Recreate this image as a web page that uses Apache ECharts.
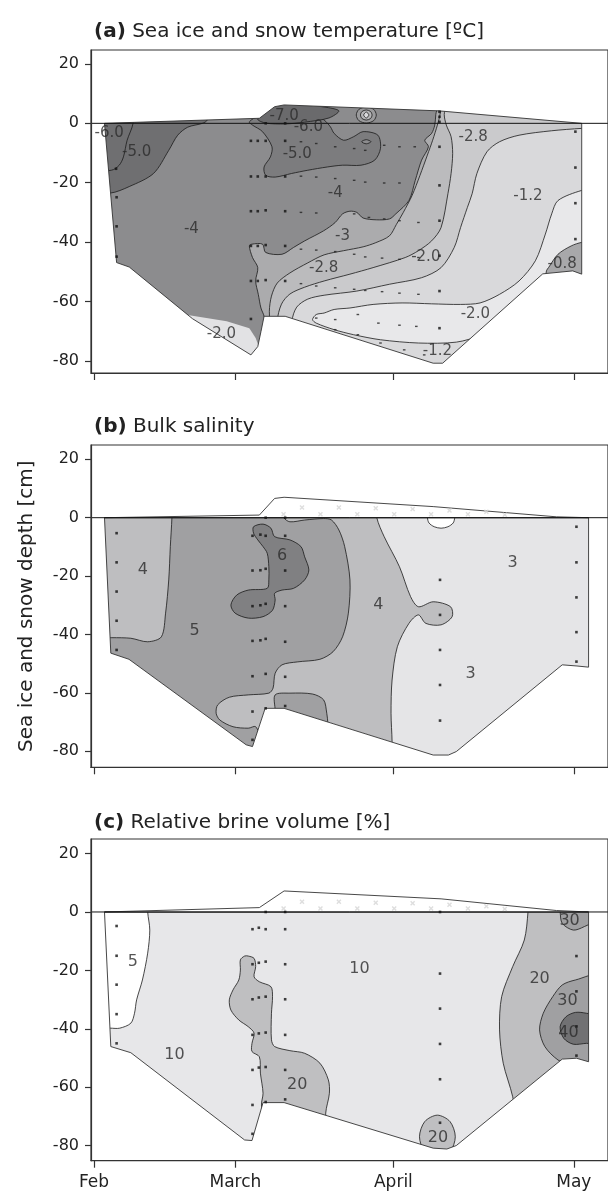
<!DOCTYPE html>
<html><head><meta charset="utf-8">
<script src="https://cdn.jsdelivr.net/npm/echarts@6/dist/echarts.min.js"></script>
<style>html,body{margin:0;padding:0;background:#fff}#c{width:608px;height:1191px}</style>
</head><body><div id="c"></div>
<script>
// ---------- axes / ticks ----------
const X_MIN = -0.56, X_MAX = 97.59;              // days since 1 Feb (figure scale)
const MONTH_TICKS = [0, 26.85, 56.85, 91.1];
const MONTH_NAMES = ['Feb', 'March', 'April', 'May'];
const DEPTH_TICKS = [-80, -60, -40, -20, 0, 20];
const Y_RANGES = [[-84.1, 24.7], [-85.5, 24.9], [-85.2, 25.0]];
const TITLES = ['(a)', '(b)', '(c)'];
const SUBTITLES = [' Sea ice and snow temperature [ºC]', ' Bulk salinity', ' Relative brine volume [%]'];
const Y_NAME = 'Sea ice and snow depth [cm]';

// ---------- panel (a) temperature: polygons [day, depth] ----------
const A_DOMAIN = [[2.0,0],[4.3,-46.9],[6.7,-48.4],[18.7,-65.8],[29.8,-78.0],[31.1,-75.2],[31.7,-70.2],[32.3,-65.0],[36.3,-65.0],[64.4,-80.8],[66.2,-80.8],[85.2,-50.7],[90.9,-49.7],[92.6,-50.8],[92.6,0],[65.5,4.2],[36.1,6.2],[34.3,5.6],[31.4,1.7]];
const A_L0 = [[97.4,-21.0],[92.6,-22.6],[88.1,-26.0],[86.9,-30.5],[85.7,-37.3],[83.8,-46.3],[80.7,-53.1],[77.0,-57.6],[73.3,-60.5],[69.6,-61.0],[64.1,-60.8],[58.5,-60.5],[53.0,-61.0],[48.6,-62.2],[45.6,-62.7],[43.7,-63.9],[42.2,-64.4],[41.5,-66.1],[42.2,-67.3],[45.6,-69.5],[49.3,-71.2],[54.4,-72.9],[61.6,-74.0],[68.8,-73.7],[73.8,-71.2],[78.9,-66.7],[97.4,-66.7]];
const A_P08 = [[85.7,-53.7],[85.9,-49.7],[86.3,-48.6],[88.1,-44.1],[90.6,-41.3],[92.6,-40.1],[95.6,-39.6],[95.6,-60],[85.6,-60]];
const A_C4 = [[97.4,11],[97.4,-1.3],[92.6,-1.7],[86.9,-2.5],[80.7,-4.0],[77.0,-6.2],[74.6,-9.6],[72.7,-16.9],[71.8,-23.7],[70.9,-28.3],[69.6,-35.1],[68.4,-41.8],[65.9,-48.6],[62.2,-52.0],[56.1,-54.2],[49.9,-56.5],[43.7,-57.9],[40.6,-59.2],[38.5,-61.9],[37.6,-66.7],[37.6,-90],[-5,-90],[-5,11]];
const A_C3 = [[67,11],[66.5,3],[66.9,-0.6],[67.8,-4.5],[68.1,-10.2],[67.8,-16.9],[67.2,-23.7],[65.9,-35.1],[64.1,-39.6],[61.6,-42.9],[59.1,-45.2],[53.0,-48.6],[48.6,-50.8],[43.7,-53.1],[40.0,-55.2],[37.2,-57.5],[35.6,-60.9],[34.8,-66.7],[34.8,-90],[-5,-90],[-5,11]];
const A_C2 = [[66,11],[65.7,3],[65.2,-0.6],[64.3,-5.7],[63.3,-10.7],[61.9,-17.5],[60.4,-24.3],[58.7,-30.1],[57.4,-34.1],[56.1,-37.9],[53.5,-40.2],[51.1,-41.6],[47.4,-42.9],[43.7,-44.3],[40.6,-47.0],[37.2,-50.4],[34.8,-53.8],[33.7,-58.2],[33.3,-63.3],[33.3,-90],[-5,-90],[-5,11]];
const A_L4 = [[65.5,11],[64.9,3],[64.7,-0.6],[64.1,-3.4],[62.8,-5.7],[63.5,-7.9],[62.2,-12.4],[61.0,-19.2],[59.8,-26.0],[57.3,-30.5],[56.1,-32.2],[53.6,-32.5],[51.1,-31.9],[49.9,-30.0],[48.6,-29.6],[47.2,-30.5],[45.8,-33.4],[43.6,-36.2],[40.0,-39.6],[37.9,-41.8],[35.7,-44.1],[32.6,-43.5],[32.0,-40.7],[30.0,-40.7],[29.5,-41.3],[30.1,-45.2],[31.1,-48.6],[30.7,-53.1],[31.2,-57.6],[31.7,-62.2],[32.3,-65.0],[32.6,-70.2],[32.6,-90],[-5,-90],[-5,11]];
const A_LP = [[17.8,-64.6],[25.2,-66.7],[29.5,-69.0],[30.7,-72.3],[31.4,-75.7],[31.1,-79.6],[28.9,-81],[16.9,-70.2]];
const A_B1 = [[-5,5],[21.5,5],[21.5,1.1],[20.6,0],[17.8,-1.3],[15.9,-4.0],[14.2,-9.1],[11.3,-16.9],[6.7,-21.3],[3.1,-23.5],[-5,-23.5]];
const A_B1B = [[7.4,5],[7.4,-0.2],[6.3,-5.7],[5.6,-11.3],[4.8,-14.1],[3.3,-15.8],[-5,-16],[-5,5]];
const A_M5 = [[29.5,0.5],[30.1,-0.6],[32.0,-2.8],[33.8,-7.9],[33.5,-11.3],[32.3,-14.7],[32.6,-17.5],[34.4,-18.1],[37.5,-16.9],[40.6,-15.8],[44.3,-14.7],[47.2,-14.1],[50.7,-14.1],[53.3,-12.4],[54.4,-8.4],[53.9,-4.0],[51.1,-2.8],[49.3,-4.5],[47.4,-5.7],[45.6,-3.4],[44.9,-1.2],[43.7,1.1],[40.0,5.2],[36.3,7],[34.4,7],[31.5,3]];
const A_M7 = [[31.1,1.5],[34.4,6.5],[36.3,7],[43.7,5.5],[46.5,4.2],[44.6,1.8],[40.0,0.4],[36.3,-0.2],[32.6,0.1]];
const A_K1 = [[49.8,2.8],[50.3,4.7],[51.7,5.5],[53.1,4.7],[53.6,2.8],[53.1,0.9],[51.7,0.1],[50.3,0.9]];
const A_K2 = [[50.6,2.8],[50.9,4.0],[51.7,4.5],[52.5,4.0],[52.8,2.8],[52.5,1.6],[51.7,1.1],[50.9,1.6]];
const A_K3 = [[51.2,2.8],[51.7,3.8],[52.2,2.8],[51.7,1.8]];
const A_OV = [[50.8,-6.2],[51.7,-5.5],[52.6,-6.2],[51.7,-6.9]];
const A_DOTS = [[4.2,-15.3],[4.3,-24.9],[4.3,-34.7],[4.3,-44.9],
  [29.8,-5.9],[31.1,-5.9],[32.6,-5.9],[36.3,-5.9],[29.8,-17.9],[31.1,-17.9],[32.6,-17.9],[36.3,-17.9],
  [29.8,-29.6],[31.1,-29.6],[32.6,-29.3],[36.3,-29.6],[29.8,-41.3],[31.1,-41.3],[32.6,-41.0],[36.3,-41.3],
  [29.8,-53.1],[31.1,-53.1],[32.6,-52.8],[36.3,-53.1],[29.8,-65.9],[32.6,0],[36.3,0],
  [65.6,3.9],[65.6,2.2],[65.6,0.5],[65.6,-7.9],[65.6,-20.9],[65.6,-32.8],[65.6,-44.6],[65.6,-56.5],[65.6,-69.0],
  [91.4,-2.8],[91.4,-14.9],[91.4,-26.9],[91.4,-39.0]];
const A_MARKS = [[39.3,-6.2],[42.2,-6.8],[45.8,-7.9],[49.4,-8.5],[51.5,-9.1],[55.1,-7.4],[58.0,-7.9],[60.9,-7.9],
  [39.3,-17.8],[42.2,-18.1],[45.8,-18.6],[49.4,-19.2],[51.5,-19.8],[55.1,-20.1],[58.0,-20.1],
  [39.3,-30.0],[42.2,-30.2],[49.4,-30.5],[52.2,-31.7],[55.1,-32.2],[58.0,-32.8],[61.6,-33.4],
  [39.3,-42.4],[42.2,-42.7],[45.8,-43.2],[49.4,-44.1],[51.5,-45.0],[54.7,-45.4],[58.0,-45.8],[61.6,-45.2],
  [39.3,-54.0],[42.2,-54.8],[45.8,-55.4],[49.4,-55.9],[51.5,-56.3],[54.7,-56.7],[58.0,-57.2],[61.6,-57.6],
  [42.2,-65.6],[45.8,-66.1],[50.1,-64.4],[54.0,-67.3],[58.0,-68.0],[61.2,-68.4],
  [45.8,-69.5],[50.1,-71.2],[54.4,-74.0],[58.9,-76.3],[62.7,-78.0]];
const A_LABEL_TEXT = ['-6.0','-5.0','-7.0','-6.0','-5.0','-4','-4','-3','-2.8','-2.0','-2.8','-1.2','-0.8','-2.0','-1.2','-2.0'];
const A_LABEL_POS = [[2.9,-3.4],[8.1,-9.6],[36.1,2.5],[40.7,-1.2],[38.6,-10.2],[45.8,-23.5],[18.5,-35.6],[47.2,-37.9],[43.6,-48.6],[63.0,-45.0],[72.0,-4.5],[82.4,-24.6],[88.9,-47.5],[72.4,-64.4],[65.2,-76.6],[24.2,-71.0]];

// ---------- panel (b) salinity ----------
const B_DOMAIN = [[2.0,0],[3.2,-46.4],[6.65,-48.5],[28.9,-77.8],[30.1,-78.4],[32.5,-65.3],[36.1,-65.3],[64.4,-81.3],[67.3,-81.3],[68.8,-80.1],[88.9,-50.4],[91.7,-50.8],[93.9,-51.2],[93.9,0]];
const B_SNOW = [[2.0,0],[31.4,0.9],[34.3,6.6],[36.1,7.0],[64.4,3.8],[87.8,0.3],[93.9,0]];
const B_R5 = [[-5,5],[36.1,5],[36.1,0],[37.2,-1.4],[40.0,-0.8],[43.6,-0.3],[45.1,-0.8],[46.5,-4.2],[47.6,-9.9],[48.6,-21.3],[48.3,-32.7],[47.2,-40.8],[45.4,-45.9],[42.9,-48.5],[38.6,-49.4],[35.7,-50.4],[34.4,-53.3],[34.0,-58.4],[33.2,-60.1],[29.3,-60.7],[25.7,-61.5],[23.5,-64.1],[23.2,-67],[23.9,-69.3],[26.4,-71.6],[29.3,-72.1],[30.7,-71.6],[31.6,-76],[31.6,-90],[-5,-90]];
const B_L4 = [[-5,5],[14.8,5],[14.8,0],[14.5,-9.9],[14.2,-21.3],[13.6,-32.7],[12.8,-40.8],[10.2,-42.5],[7.0,-41.3],[3.4,-41.1],[-5,-41]];
const B_P5 = [[34.4,-66],[34.4,-60.7],[37.2,-60.1],[41.5,-60.4],[43.6,-62.4],[44.2,-67],[44.4,-70.4],[44.6,-85],[34.4,-85]];
const B_R3 = [[53.7,5],[53.7,0],[55.1,-6.5],[58.0,-16.8],[60.1,-27.0],[61.6,-30.5],[64.4,-28.8],[67.7,-30.5],[68.0,-33.9],[65.9,-36.7],[63.0,-36.2],[61.6,-33.3],[59.8,-36.2],[57.6,-44.2],[56.6,-55.6],[56.4,-67],[56.6,-76.7],[56.6,-90],[100,-90],[100,5]];
const B_R6 = [[30.3,-3.1],[32.1,-2.2],[33.6,-3.6],[34.3,-6.5],[37.2,-7.6],[39.3,-9.9],[40.0,-13.4],[40.8,-17.9],[40.0,-21.3],[37.9,-24.2],[35.7,-24.8],[34.3,-25.9],[34.4,-28.2],[33.9,-31.7],[32.1,-33.9],[29.3,-34.4],[26.8,-32.7],[26.0,-29.9],[27.1,-26.5],[29.3,-24.8],[32.9,-24.2],[33.2,-21.3],[33.2,-16.8],[32.9,-12.2],[32.1,-9.9],[31.1,-7.6],[30.3,-5.3]];
const B_HOLE = [[63.3,1],[63.3,0],[63.6,-1.8],[64.6,-3.1],[65.9,-3.6],[67.2,-3.1],[68.2,-1.8],[68.5,0],[68.5,1]];
const B_DOTS = [[4.3,-5.3],[4.3,-15.3],[4.3,-25.3],[4.3,-35.3],[4.3,-45.3],
  [30.1,-6.2],[30.1,-18.1],[30.1,-30.3],[30.1,-42.2],[30.1,-54.3],[30.1,-66.4],[30.1,-76.1],
  [31.6,-5.8],[31.6,-18.0],[31.6,-30.0],[31.6,-42.0],
  [32.6,0],[32.6,-6.2],[32.6,-17.5],[32.6,-29.5],[32.6,-41.5],[32.6,-53.5],[32.6,-65.3],
  [36.3,0],[36.3,-6.2],[36.3,-18.1],[36.3,-30.3],[36.3,-42.5],[36.3,-54.5],[36.3,-64.5],
  [65.7,-21.3],[65.7,-33.3],[65.7,-45.3],[65.7,-57.3],[65.7,-69.5],
  [91.6,-3.1],[91.6,-15.3],[91.6,-27.3],[91.6,-39.2],[91.6,-49.3]];
const B_LABEL_TEXT = ['4','5','6','4','3','3'];
const B_LABEL_POS = [[9.3,-17.8],[19.1,-38.7],[35.7,-12.9],[54,-29.9],[79.5,-15.4],[71.5,-53.5]];

// ---------- panel (c) brine volume ----------
const C_DOMAIN = [[2.0,0],[3.2,-46.1],[7.0,-48.2],[28.6,-78.1],[30.0,-78.3],[32.1,-65.3],[36.1,-65.3],[64.4,-80.9],[67.0,-81.2],[68.8,-80],[88.9,-50.4],[91.6,-50.1],[93.9,-51.3],[93.9,0]];
const C_SNOW = [[2.0,0],[31.4,1.5],[36.1,7.2],[65.9,4.5],[87.8,0.5],[93.9,0]];
const C_R5 = [[-5,5],[10.2,5],[10.2,0],[10.6,-6.2],[10.2,-14.1],[9.2,-23.3],[8.1,-30.1],[7.7,-34.7],[7.0,-38.1],[4.9,-39.8],[3.1,-39.8],[-5,-39.8]];
const C_R20A = [[28.6,-15.1],[29.3,-15.1],[30.4,-15.9],[30.7,-18.7],[30.4,-22.2],[31.4,-23.9],[33.6,-25.6],[33.9,-29.0],[33.7,-34.7],[33.7,-43.8],[34.3,-46.1],[37.2,-47.5],[40.0,-48.4],[42.9,-51.8],[44.5,-57.5],[44.7,-62.1],[44.0,-68.9],[44,-85],[33,-85],[31.8,-66.1],[32.1,-62.1],[31.6,-55.2],[31.4,-49.6],[30.0,-47.8],[30.0,-45.0],[30.4,-41.5],[29.3,-39.3],[27.5,-37.0],[26.0,-33.6],[25.7,-30.1],[26.4,-26.7],[27.5,-23.3],[27.8,-19.9],[27.8,-16.4]];
const C_R20B = [[61.8,-77],[62.8,-71.8],[65.2,-69.6],[67.6,-71.8],[68.6,-77],[67.6,-82.2],[65.2,-84.4],[62.8,-82.2]];
const C_R20C = [[82.4,5],[82.4,0],[81.7,-9.6],[79.5,-18.7],[77.4,-29.0],[77.0,-40.4],[77.7,-51.8],[79.5,-63.3],[80.5,-75],[100,-75],[100,5]];
const C_R30A = [[88.5,1],[88.5,0],[88.9,-3.9],[91,-6.2],[93.1,-5],[95,-2.9],[95,1]];
const C_R30B = [[96,-22],[91.4,-23.3],[88.9,-25.0],[87.1,-29.0],[85.3,-34.7],[84.6,-40.4],[85.6,-46.1],[88.1,-50.7],[91,-53],[96,-56]];
const C_R40 = [[89.6,-35.9],[91.4,-34.4],[93.5,-34.7],[96,-36],[96,-45],[93.5,-45],[91,-45.3],[89.2,-43.3],[88.5,-39.3]];
const C_DOTS = [[4.3,-4.8],[4.3,-15.0],[4.3,-24.9],[4.3,-35.0],[4.3,-45.0],
  [30.1,-5.9],[30.1,-17.9],[30.1,-29.9],[30.1,-42.1],[30.1,-54.1],[30.1,-66.1],[30.1,-76.0],
  [31.3,-5.4],[31.3,-17.4],[31.3,-29.3],[31.3,-41.6],[31.3,-53.3],
  [32.6,0],[32.6,-5.9],[32.6,-17.0],[32.6,-29.0],[32.6,-41.3],[32.6,-53.1],[32.6,-65.1],
  [36.3,0],[36.3,-5.9],[36.3,-17.9],[36.3,-29.9],[36.3,-42.1],[36.3,-54.1],[36.3,-64.2],
  [65.7,0],[65.7,-21.1],[65.7,-33.1],[65.7,-45.2],[65.7,-57.3],[65.7,-72.2],
  [91.6,-15.1],[91.6,-27.2],[91.6,-39.2],[91.6,-49.2]];
const C_LABEL_TEXT = ['5','10','10','20','20','30','40','30','20'];
const C_LABEL_POS = [[7.4,-17.0],[50.4,-19.6],[15.3,-49.1],[38.6,-59.2],[84.6,-22.9],[89.9,-30.5],[90.1,-41.3],[90.3,-3.1],[65.3,-77.3]];
const SNOW_X = [[36,1.2],[39.5,3.5],[43,1.2],[46.5,3.5],[50,1.2],[53.5,3.2],[57,1.2],[60.5,3],[64,1.2],[67.5,2.5],[71,1.2],[74.5,2],[78,1]];

// ---------- styles (layer order = paint order) ----------
const FONT = 'DejaVu Sans';
const A_LAYERS = [
  [A_DOMAIN,'#d9d9db',false],[A_L0,'#e8e8ea',true],[A_P08,'#a8a8aa',true],[A_C4,'#cacacc',true],
  [A_C3,'#bbbbbd',true],[A_C2,'#ababad',true],[A_L4,'#8c8c8e',true],[A_LP,'#e2e2e4',false],
  [A_B1,'#6f6f71',true],[A_B1B,'#6f6f71',true],[A_M5,'#7c7c7e',true],[A_M7,'#6a6a6c',true],
  [A_K1,'#9a9a9c',true],[A_K2,'#b5b5b7',true],[A_K3,'#dadadc',true],[A_OV,'#8c8c8e',true]];
const B_LAYERS = [
  [B_DOMAIN,'#bebec0',false],[B_R5,'#a0a0a2',true],[B_L4,'#bebec0',true],[B_P5,'#a0a0a2',true],
  [B_R3,'#e5e5e7',true],[B_R6,'#808082',true],[B_HOLE,'#ffffff',true]];
const C_LAYERS = [
  [C_DOMAIN,'#e7e7e9',false],[C_R5,'#ffffff',true],[C_R20A,'#bfbfc1',true],[C_R20B,'#bfbfc1',true],
  [C_R20C,'#bfbfc1',true],[C_R30A,'#a0a0a2',true],[C_R30B,'#a0a0a2',true],[C_R40,'#717173',true]];

const PANELS = [
  {layers:A_LAYERS, domain:A_DOMAIN, snow:null, dots:A_DOTS, marks:A_MARKS, lt:A_LABEL_TEXT, lp:A_LABEL_POS, lfs:15},
  {layers:B_LAYERS, domain:B_DOMAIN, snow:B_SNOW, dots:B_DOTS, marks:[], lt:B_LABEL_TEXT, lp:B_LABEL_POS, lfs:16},
  {layers:C_LAYERS, domain:C_DOMAIN, snow:C_SNOW, dots:C_DOTS, marks:[], lt:C_LABEL_TEXT, lp:C_LABEL_POS, lfs:16}];

const GRID_TOPS = [50, 445, 839], GRID_H = [323, 322.3, 321.7];
const TITLE_TOPS = [17, 412, 808];

const chart = echarts.init(document.getElementById('c'), null, {renderer:'canvas'});
const grids = [], xAxes = [], yAxes = [], series = [], titles = [];

function signedArea(p){let s=0;for(let i=0;i<p.length;i++){const a=p[i],b=p[(i+1)%p.length];s+=a[0]*b[1]-b[0]*a[1];}return s;}

PANELS.forEach((P, i) => {
  grids.push({left:91, top:GRID_TOPS[i], width:530, height:GRID_H[i], show:true, borderColor:'#333', borderWidth:1.2, backgroundColor:'transparent', z:10});
  titles.push({text:'{b|'+TITLES[i]+'}'+SUBTITLES[i], left:89, top:TITLE_TOPS[i],
    textStyle:{fontFamily:FONT, fontSize:20, fontWeight:'normal', color:'#222',
      rich:{b:{fontFamily:FONT, fontSize:20, fontWeight:'bold', color:'#222'}}}});
  xAxes.push({gridIndex:i, type:'value', min:X_MIN, max:X_MAX, z:10,
    axisLine:{show:true, onZero:false, lineStyle:{color:'#333', width:1.2}},
    axisTick:{show:true, customValues:MONTH_TICKS, length:7, lineStyle:{color:'#333', width:1.2}},
    axisLabel:{show:i===2, customValues:MONTH_TICKS, margin:13, fontFamily:FONT, fontSize:17, color:'#222',
      formatter:(v)=>{let k=0,best=1e9;MONTH_TICKS.forEach((t,j)=>{if(Math.abs(t-v)<best){best=Math.abs(t-v);k=j;}});return MONTH_NAMES[k];}},
    splitLine:{show:false}});
  const y = {gridIndex:i, type:'value', min:Y_RANGES[i][0], max:Y_RANGES[i][1], z:10,
    axisLine:{show:true, onZero:false, lineStyle:{color:'#333', width:1.2}},
    axisTick:{show:true, customValues:DEPTH_TICKS, length:6, lineStyle:{color:'#333', width:1.2}},
    axisLabel:{customValues:DEPTH_TICKS, margin:12, fontFamily:FONT, fontSize:16, color:'#222'},
    splitLine:{show:false}};
  if (i === 1) Object.assign(y, {name:Y_NAME, nameLocation:'middle', nameGap:54,
    nameTextStyle:{fontFamily:FONT, fontSize:20, color:'#222'}});
  yAxes.push(y);

  // filled contour regions
  series.push({type:'custom', xAxisIndex:i, yAxisIndex:i, clip:true, z:2, silent:true,
    data:P.layers.map((l,k)=>[k,0]),
    renderItem:(params, api)=>{
      const L = P.layers[params.dataIndex];
      return {type:'polygon', z2:params.dataIndex,
        shape:{points:L[0].map(p=>api.coord(p)), smooth:L[2]?0.3:0},
        style:{fill:L[1], stroke:L[2]?'#1a1a1a':null, lineWidth:0.8}};
    }});
  // white mask outside the domain
  series.push({type:'custom', xAxisIndex:i, yAxisIndex:i, clip:true, z:3, silent:true, data:[[0,0]],
    renderItem:(params, api)=>{
      const cs = params.coordSys;
      const outer = [[cs.x-3,cs.y-3],[cs.x+cs.width+5,cs.y-3],[cs.x+cs.width+5,cs.y+cs.height+3],[cs.x-3,cs.y+cs.height+3]];
      let inner = P.domain.map(p=>api.coord(p));
      if (Math.sign(signedArea(inner)) === Math.sign(signedArea(outer))) inner = inner.slice().reverse();
      const toD = pts => 'M'+pts.map(p=>p[0].toFixed(2)+' '+p[1].toFixed(2)).join(' L')+' Z';
      return {type:'path', shape:{pathData: toD(outer)+' '+toD(inner)}, style:{fill:'#ffffff', stroke:null}};
    }});
  // domain outline and snow layer
  const outl = [[P.domain, 'none']];
  if (P.snow) outl.push([P.snow, '#ffffff']);
  series.push({type:'custom', xAxisIndex:i, yAxisIndex:i, clip:true, z:4, silent:true,
    data:outl.map((o,k)=>[k,0]),
    renderItem:(params, api)=>{
      const o = outl[params.dataIndex];
      return {type:'polygon', shape:{points:o[0].map(p=>api.coord(p))},
        style:{fill:o[1], stroke:'#333', lineWidth:0.9}};
    }});
  if (P.snow) series.push({type:'scatter', xAxisIndex:i, yAxisIndex:i, z:5, silent:true,
    symbol:'path://M0,2L2,0L5,3L8,0L10,2L7,5L10,8L8,10L5,7L2,10L0,8L3,5Z', symbolSize:5,
    itemStyle:{color:'#d6d6d6'}, data:SNOW_X});
  // zero line
  series.push({type:'line', xAxisIndex:i, yAxisIndex:i, z:6, silent:true, showSymbol:false,
    lineStyle:{color:'#111', width:1}, data:[[X_MIN,0],[X_MAX,0]]});
  // sample points
  series.push({type:'scatter', xAxisIndex:i, yAxisIndex:i, z:7, silent:true, symbol:'rect', symbolSize:[2.6,2.6],
    itemStyle:{color:'#111'}, data:P.dots});
  if (P.marks.length) series.push({type:'scatter', xAxisIndex:i, yAxisIndex:i, z:7, silent:true, symbol:'rect', symbolSize:[2.6,1.4],
    itemStyle:{color:'#222'}, data:P.marks});
  // contour labels
  series.push({type:'scatter', xAxisIndex:i, yAxisIndex:i, z:8, silent:true, symbolSize:1,
    itemStyle:{color:'rgba(0,0,0,0)'},
    label:{show:true, position:'inside', formatter:(p)=>p.name, fontFamily:FONT, fontSize:P.lfs, color:'#2a2a2a'},
    data:P.lp.map((p,k)=>({name:P.lt[k], value:p}))});
});

chart.setOption({animation:false, backgroundColor:'#ffffff', title:titles, grid:grids, xAxis:xAxes, yAxis:yAxes, series:series});
</script></body></html>
